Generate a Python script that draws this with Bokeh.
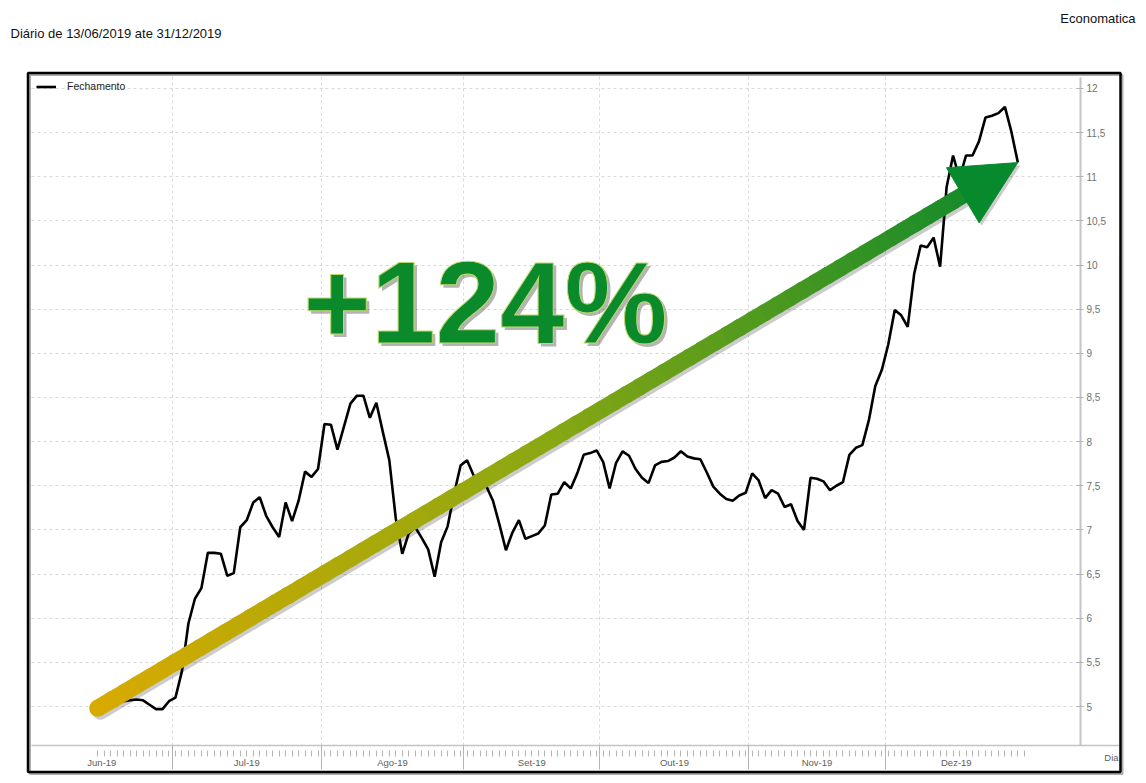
import numpy as np
from bokeh.plotting import figure
from bokeh.models import (Range1d, FixedTicker, Label, BoxAnnotation, Arrow, NormalHead,
                          LinearAxis)
from bokeh.embed import file_html
from bokeh.resources import INLINE

# ---------------- data ----------------
title_text = "Diário de 13/06/2019 ate 31/12/2019"
source_text = "Economatica"
series_name = "Fechamento"
gain_text = "+124%"
x_axis_name = "Dia"

# daily close, one value per weekday starting 13/06/2019 (index 0) up to 30/12/2019
close = [
    4.98, 5.02, 5.04, 5.05, 5.06, 5.07, 5.08, 5.07, 5.02, 4.97,
    4.97, 5.06, 5.10, 5.40, 5.94, 6.22, 6.34, 6.74, 6.74, 6.73,
    6.48, 6.51, 7.03, 7.11, 7.31, 7.37, 7.16, 7.03, 6.92, 7.31,
    7.10, 7.33, 7.66, 7.60, 7.69, 8.20, 8.19, 7.91, 8.17, 8.43,
    8.52, 8.52, 8.27, 8.44, 8.11, 7.79, 7.13, 6.73, 6.96, 7.03,
    6.91, 6.78, 6.47, 6.86, 7.04, 7.41, 7.73, 7.79, 7.62, 7.55,
    7.49, 7.33, 7.06, 6.77, 6.97, 7.11, 6.90, 6.93, 6.96, 7.05,
    7.40, 7.41, 7.54, 7.47, 7.64, 7.85, 7.87, 7.90, 7.77, 7.47,
    7.76, 7.89, 7.84, 7.69, 7.59, 7.53, 7.73, 7.77, 7.78, 7.82,
    7.89, 7.83, 7.81, 7.80, 7.65, 7.49, 7.41, 7.35, 7.33, 7.39,
    7.42, 7.64, 7.56, 7.36, 7.45, 7.41, 7.26, 7.29, 7.10, 7.00,
    7.59, 7.58, 7.55, 7.45, 7.50, 7.54, 7.85, 7.93, 7.96, 8.24,
    8.63, 8.81, 9.10, 9.49, 9.43, 9.30, 9.90, 10.22, 10.20, 10.31,
    9.98, 10.88, 11.24, 10.98, 11.24, 11.24, 11.40, 11.67, 11.69, 11.72,
    11.79, 11.51, 11.16,
]
month_labels = ["Jun-19", "Jul-19", "Ago-19", "Set-19", "Out-19", "Nov-19", "Dez-19"]
month_first_weekday = [0, 12, 35, 57, 78, 101, 122]   # weekday index of each month start
n_weekdays = 144                                      # 13/06/2019 .. 31/12/2019
y_ticks = [5.0, 5.5, 6.0, 6.5, 7.0, 7.5, 8.0, 8.5, 9.0, 9.5, 10.0, 10.5, 11.0, 11.5, 12.0]
y_tick_labels = ["5", "5,5", "6", "6,5", "7", "7,5", "8", "8,5", "9", "9,5",
                 "10", "10,5", "11", "11,5", "12"]

days = list(range(len(close)))

# ---------------- geometry (page pixels) ----------------
FONT = "Liberation Sans"
W, H = 1140, 778                          # canvas
FL, FR, FT, FB = 31, 1080, 75, 745       # inner chart area
X0_PX, PX_DAY = 97.2, 6.48               # x pixel of weekday 0, px per weekday
Y5_PX, PX_UNIT = 706.0, 88.3             # y pixel of value 5, px per unit


def X(px):
    return (px - X0_PX) / PX_DAY


def Y(py):
    return 5 + (Y5_PX - py) / PX_UNIT


p = figure(
    frame_width=W, frame_height=H,
    x_range=Range1d(X(0), X(W)), y_range=Range1d(Y(H), Y(0)),
    y_axis_location="right", output_backend="svg", toolbar_location=None,
    min_border_left=0, min_border_top=0, min_border_right=0, min_border_bottom=0,
    background_fill_color="white", border_fill_color="white",
)
p.outline_line_color = None

# ---- x axis: month separators (major) and daily ticks (minor), drawn at the chart bottom
separators = [m - 0.5 for m in month_first_weekday[1:]]
xt = FixedTicker(ticks=separators, minor_ticks=list(range(n_weekdays)))
xa = p.xaxis[0]
xa.fixed_location = Y(FB)
xa.bounds = (X(FL), X(1119))
xa.ticker = xt
p.xgrid.ticker = xt
xa.major_label_overrides = {s: "" for s in separators}
xa.axis_line_color = "#c4c4c4"
xa.axis_line_width = 1.5
xa.major_tick_in = 0
xa.major_tick_out = 24
xa.major_tick_line_color = "#b4b4b4"
xa.minor_tick_in = -5
xa.minor_tick_out = 11
xa.minor_tick_line_color = "#b4b4b4"
xa.major_label_text_font_size = "1px"
xa.major_label_standoff = 0

# month names centred between separators
bounds = [X(FL)] + separators + [n_weekdays - 0.5]
month_centres = [(bounds[i] + bounds[i + 1]) / 2 for i in range(len(month_labels))]
ma = LinearAxis(fixed_location=Y(FB),
                ticker=FixedTicker(ticks=month_centres, minor_ticks=[]),
                major_label_overrides=dict(zip(month_centres, month_labels)),
                axis_line_color=None, major_tick_line_color=None, minor_tick_line_color=None,
                major_tick_in=0, major_tick_out=0, minor_tick_in=0, minor_tick_out=0,
                major_label_standoff=11, major_label_text_font=FONT,
                major_label_text_font_size="9.5px", major_label_text_color="#606060")
p.add_layout(ma, "below")

# ---- y axis on the right edge of the chart area
yt = FixedTicker(ticks=y_ticks, minor_ticks=[])
ya = p.yaxis[0]
ya.fixed_location = X(FR)
ya.bounds = (Y(FB), Y(FT + 2))
ya.ticker = yt
p.ygrid.ticker = yt
ya.major_label_overrides = dict(zip(y_ticks, y_tick_labels))
ya.axis_line_color = "#c4c4c4"
ya.axis_line_width = 2
ya.major_tick_in = 4
ya.major_tick_out = 3
ya.major_tick_line_color = "#b4b4b4"
ya.minor_tick_line_color = None
ya.major_label_text_font = FONT
ya.major_label_text_font_size = "10px"
ya.major_label_text_color = "#707070"
ya.major_label_standoff = 3

for g in (p.xgrid, p.ygrid):
    g.grid_line_color = "#d9d9d9"
    g.grid_line_dash = "3 3"
    g.grid_line_width = 1

try:
    p.xgrid.cross_bounds = (Y(FB), Y(FT))
    p.ygrid.cross_bounds = (X(FL), X(FR))
except AttributeError:
    for l, r, t, b in [(0, W, 0, FT), (0, W, FB, H), (0, FL, 0, H), (FR, W, 0, H)]:
        p.add_layout(BoxAnnotation(left=X(l), right=X(r), top=Y(t), bottom=Y(b),
                                   fill_color="white", fill_alpha=1, line_color=None,
                                   level="underlay"))

# ---- series
p.line(days, close, line_color="black", line_width=2.6, legend_label=series_name)

lg = p.legend[0]
lg.location = (36, H - 81 - 11)
lg.margin = 0
lg.padding = 0
lg.spacing = 0
lg.glyph_width = 20
lg.glyph_height = 11
lg.label_height = 11
lg.label_standoff = 11
lg.label_text_font = FONT
lg.label_text_font_size = "10.5px"
lg.label_text_color = "#222222"
lg.border_line_color = None
lg.background_fill_alpha = 0

# ---- gradient arrow from first close to last close
ax0, ay0 = days[0], close[0]
ax1, ay1 = days[-1], close[-1]
n_seg = 70
t_end = 0.955
tt = np.linspace(0, t_end, n_seg + 1)
stops_t = [0.0, 0.5, 1.0]
stops_rgb = [(216, 170, 0), (140, 168, 18), (20, 139, 42)]
tm = (tt[:-1] + tt[1:]) / 2 / t_end
cols = []
for v in tm:
    r, g, b = (int(round(np.interp(v, stops_t, [c[k] for c in stops_rgb]))) for k in range(3))
    cols.append("#%02x%02x%02x" % (r, g, b))
t1 = np.minimum(tt[1:] + 0.004, t_end)
sx0 = ax0 + (ax1 - ax0) * tt[:-1]
sy0 = ay0 + (ay1 - ay0) * tt[:-1]
sx1 = ax0 + (ax1 - ax0) * t1
sy1 = ay0 + (ay1 - ay0) * t1
dx, dy = 2.5 / PX_DAY, -3.0 / PX_UNIT

# shadow
p.line([ax0 + dx, sx1[-1] + dx], [ay0 + dy, sy1[-1] + dy], line_color="black", line_alpha=0.2,
       line_width=17, line_cap="round")
# body
p.scatter([ax0], [ay0], size=17, fill_color=cols[0], line_color=None)
p.segment(sx0, sy0, sx1, sy1, line_color=cols, line_width=17)

ht = 0.93
hx0, hy0 = ax0 + (ax1 - ax0) * ht, ay0 + (ay1 - ay0) * ht
p.add_layout(Arrow(end=NormalHead(size=64, fill_color="black", fill_alpha=0.2, line_color=None),
                   x_start=hx0 + dx, y_start=hy0 + dy, x_end=ax1 + dx, y_end=ay1 + dy,
                   line_color=None))
p.add_layout(Arrow(end=NormalHead(size=64, fill_color="#078a2d", line_color="#078a2d", line_width=1),
                   x_start=hx0, y_start=hy0, x_end=ax1, y_end=ay1, line_color=None))

# ---- big gain label (vertically centred on the caps)
p.add_layout(Label(x=X(488), y=Y(305), text=gain_text, text_font=FONT, text_font_style="bold",
                   text_font_size="116px", text_align="center", text_baseline="middle",
                   text_color="#444444", text_alpha=0.4))
gain_kw = dict(x=X(485), y=Y(302), text=gain_text, text_font=FONT, text_font_style="bold",
               text_font_size="116px", text_align="center", text_baseline="middle",
               text_color="#0a8a2b")
try:
    gain_label = Label(**gain_kw, text_outline_color="#bcd96e")
except AttributeError:
    gain_label = Label(**gain_kw)
p.add_layout(gain_label)

# ---- axis name
p.add_layout(Label(x=X(1111), y=Y(757), text=x_axis_name, text_font=FONT, text_font_size="9.5px",
                   text_color="#606060", text_align="center", text_baseline="middle"))

# ---- header texts
p.add_layout(Label(x=X(10), y=Y(33), text=title_text, text_font=FONT, text_font_size="13px",
                   text_color="#111111", text_align="left", text_baseline="middle"))
p.add_layout(Label(x=X(1135), y=Y(18), text=source_text, text_font=FONT, text_font_size="13px",
                   text_color="#111111", text_align="right", text_baseline="middle"))

# ---- outer frame with shadow
p.add_layout(BoxAnnotation(left=X(29.5), right=X(1122), top=Y(74.5), bottom=Y(773.5),
                           fill_color=None, line_color="#777777", line_alpha=0.6, line_width=2))
p.add_layout(BoxAnnotation(left=X(27.5), right=X(1120), top=Y(72.5), bottom=Y(771.5),
                           fill_color=None, line_color="black", line_alpha=1.0, line_width=2.5))

open("out.html", "w").write(file_html(p, INLINE))
